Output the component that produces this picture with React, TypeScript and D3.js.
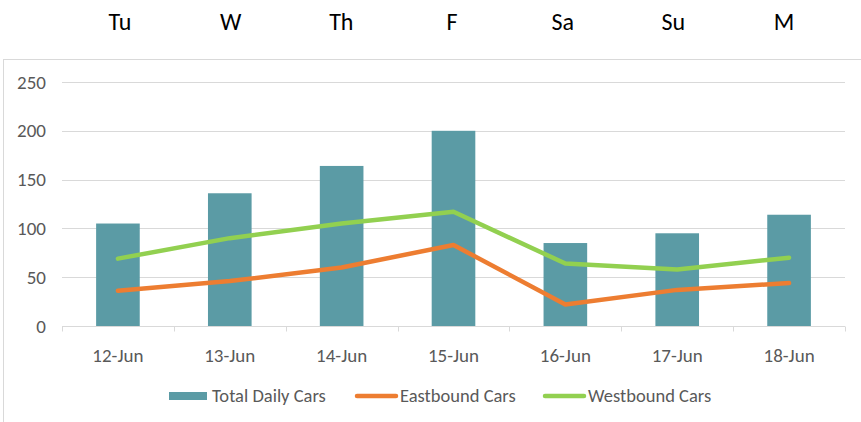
import React, { useRef, useEffect } from "react";
import * as d3 from "d3";

const dates = ["12-Jun", "13-Jun", "14-Jun", "15-Jun", "16-Jun", "17-Jun", "18-Jun"];
const days = ["Tu", "W", "Th", "F", "Sa", "Su", "M"];
const totalCars = [105, 136, 164, 200, 85, 95, 114];
const eastbound = [36, 46, 60, 83, 22, 37, 44];
const westbound = [69, 90, 105, 117, 64, 58, 70];
const yTicks = [0, 50, 100, 150, 200, 250];

const W = 861;
const H = 422;

export default function App() {
  const svgRef = useRef<SVGSVGElement>(null);

  useEffect(() => {
    d3.select(svgRef.current).selectAll("*").remove();
    const svg = d3.select(svgRef.current);
    const font = "Calibri, Carlito, 'Liberation Sans', sans-serif";

    const left = 62;
    const right = 845;
    const top = 82;
    const bottom = 326;

    // scales
    const x = d3.scaleBand().domain(dates).range([left, right]);
    const y = d3.scaleLinear().domain([0, 250]).range([bottom, top]);
    const dayX = d3.scalePoint().domain(days).range([120, 784]);

    // day labels above the chart
    svg.append("g")
      .selectAll("text")
      .data(days)
      .join("text")
      .attr("x", d => dayX(d)!)
      .attr("y", 30)
      .attr("text-anchor", "middle")
      .style("font-family", font)
      .style("font-size", "24px")
      .attr("fill", "#000")
      .text(d => d);

    // chart border
    svg.append("rect")
      .attr("x", 3.5)
      .attr("y", 59.5)
      .attr("width", 900)
      .attr("height", 400)
      .attr("fill", "none")
      .attr("stroke", "#d9d9d9");

    // gridlines
    svg.append("g")
      .selectAll("line")
      .data(yTicks.filter(t => t > 0))
      .join("line")
      .attr("x1", left)
      .attr("x2", right)
      .attr("y1", d => Math.round(y(d)) + 0.5)
      .attr("y2", d => Math.round(y(d)) + 0.5)
      .attr("stroke", "#d9d9d9")
      .attr("stroke-width", 1);

    // y labels
    svg.append("g")
      .selectAll("text")
      .data(yTicks)
      .join("text")
      .attr("x", 46)
      .attr("y", d => y(d) + 6.5)
      .attr("text-anchor", "end")
      .style("font-family", font)
      .style("font-size", "19px")
      .attr("fill", "#595959")
      .text(d => d);

    // bars
    const bw = x.bandwidth() * 0.39;
    svg.append("g")
      .selectAll("rect")
      .data(totalCars)
      .join("rect")
      .attr("x", (d, i) => x(dates[i])! + x.bandwidth() / 2 - bw / 2)
      .attr("y", d => y(d))
      .attr("width", bw)
      .attr("height", d => y(0) - y(d))
      .attr("fill", "#5b9ba5");

    // x axis
    const xAxisY = Math.round(y(0)) + 0.5;
    svg.append("line")
      .attr("x1", left)
      .attr("x2", right)
      .attr("y1", xAxisY)
      .attr("y2", xAxisY)
      .attr("stroke", "#d9d9d9");
    svg.append("g")
      .selectAll("line")
      .data(d3.range(dates.length + 1))
      .join("line")
      .attr("x1", i => Math.round(left + i * x.step()) + 0.5)
      .attr("x2", i => Math.round(left + i * x.step()) + 0.5)
      .attr("y1", xAxisY)
      .attr("y2", xAxisY + 5)
      .attr("stroke", "#d9d9d9");
    svg.append("g")
      .selectAll("text")
      .data(dates)
      .join("text")
      .attr("x", d => x(d)! + x.bandwidth() / 2)
      .attr("y", 362)
      .attr("text-anchor", "middle")
      .style("font-family", font)
      .style("font-size", "19px")
      .attr("fill", "#595959")
      .text(d => d);

    // lines
    const line = d3.line<number>()
      .x((d, i) => x(dates[i])! + x.bandwidth() / 2)
      .y(d => y(d));

    svg.append("path")
      .attr("d", line(eastbound))
      .attr("fill", "none")
      .attr("stroke", "#ed7d31")
      .attr("stroke-width", 4.5)
      .attr("stroke-linecap", "round")
      .attr("stroke-linejoin", "round");

    svg.append("path")
      .attr("d", line(westbound))
      .attr("fill", "none")
      .attr("stroke", "#92d050")
      .attr("stroke-width", 4.5)
      .attr("stroke-linecap", "round")
      .attr("stroke-linejoin", "round");

    // legend
    const legend = [
      { name: "Total Daily Cars", color: "#5b9ba5", type: "bar", x: 169 },
      { name: "Eastbound Cars", color: "#ed7d31", type: "line", x: 355 },
      { name: "Westbound Cars", color: "#92d050", type: "line", x: 543 },
    ];
    const ly = 396;
    const lg = svg.append("g");
    legend.forEach(l => {
      if (l.type === "bar") {
        lg.append("rect")
          .attr("x", l.x)
          .attr("y", ly - 4)
          .attr("width", 38)
          .attr("height", 8)
          .attr("fill", l.color);
      } else {
        lg.append("line")
          .attr("x1", l.x + 2)
          .attr("x2", l.x + 41)
          .attr("y1", ly)
          .attr("y2", ly)
          .attr("stroke", l.color)
          .attr("stroke-width", 4.5)
          .attr("stroke-linecap", "round");
      }
      lg.append("text")
        .attr("x", l.x + (l.type === "bar" ? 43 : 45))
        .attr("y", ly + 6)
        .style("font-family", font)
        .style("font-size", "18.5px")
        .attr("fill", "#595959")
        .text(l.name);
    });
  }, []);

  return (
    <svg
      ref={svgRef}
      width={W}
      height={H}
      style={{ position: "absolute", left: 0, top: 0, background: "#fff" }}
    />
  );
}
